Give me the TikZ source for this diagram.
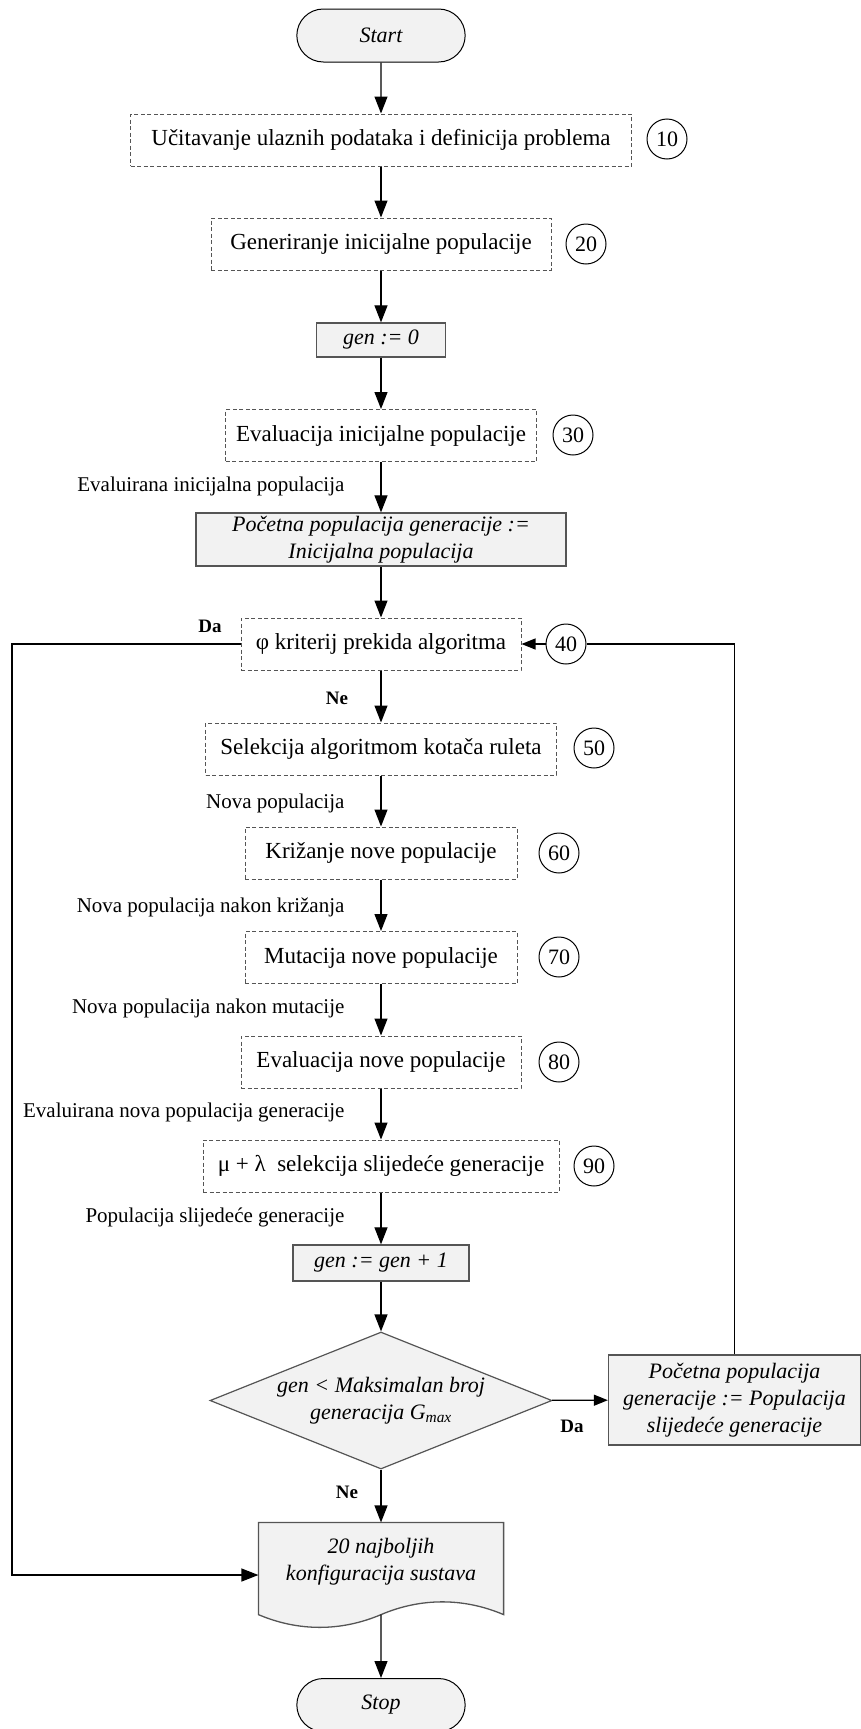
\documentclass[tikz,border=0pt]{standalone}
\usepackage{fontspec}
\setmainfont{Liberation Serif}
\usetikzlibrary{arrows.meta,shapes.geometric,shapes.misc,positioning,calc,backgrounds}

\definecolor{boxgray}{HTML}{F2F2F2}
\definecolor{edgegray}{HTML}{555555}

\begin{document}
\begin{tikzpicture}[x=1pt,y=-1pt,
  >={Triangle[length=17pt,width=13pt]},
  line width=1.2pt,
  txt/.style={font=\fontsize{23}{27}\selectfont},
  itx/.style={font=\fontsize{22}{27}\selectfont\itshape},
  proc/.style={txt,draw=edgegray,line width=1pt,dash pattern=on 4pt off 2.5pt,minimum height=52pt,inner sep=0pt},
  setbox/.style={itx,draw=edgegray,fill=boxgray,line width=1.3pt,inner sep=0pt,align=center},
  term/.style={itx,rounded rectangle,draw=black,fill=boxgray,line width=1pt,minimum width=175pt,minimum height=53pt},
  dia/.style={diamond,draw=edgegray,fill=boxgray,line width=1.2pt,minimum width=342pt,minimum height=137pt,inner sep=0pt},
  num/.style={font=\fontsize{22}{26}\selectfont,circle,draw=black,line width=1pt,minimum size=40pt,inner sep=0pt},
  lbl/.style={font=\fontsize{21}{25}\selectfont,anchor=east,inner sep=0pt},
  yesno/.style={font=\fontsize{19}{22}\selectfont\bfseries,inner sep=0pt},
  short/.style={-{Triangle[length=14pt,width=11pt]}}
]
\useasboundingbox (0,0) rectangle (861,1729);

% Start and stop
\node[term] (start) at (381,35.5) {Start};
\node[term] (stop) at (381,1705) {Stop};

% Main steps
\node[proc,minimum width=501pt] (b10) at (381,140) {Učitavanje ulaznih podataka i definicija problema};
\node[proc,minimum width=340pt] (b20) at (381,244) {Generiranje inicijalne populacije};
\node[setbox,minimum width=129pt,minimum height=34pt] (gen0) at (381,340) {gen := 0};
\node[proc,minimum width=311pt] (b30) at (381,435.5) {Evaluacija inicijalne populacije};
\node[setbox,minimum width=370pt,minimum height=53pt] (init) at (381,539.5) {Početna populacija generacije :=\\Inicijalna populacija};
\node[proc,minimum width=280pt] (b40) at (381,644) {φ kriterij prekida algoritma};
\node[proc,minimum width=351pt] (b50) at (381,749) {Selekcija algoritmom kotača ruleta};
\node[proc,minimum width=272pt] (b60) at (381,853) {Križanje nove populacije};
\node[proc,minimum width=272pt] (b70) at (381,957.5) {Mutacija nove populacije};
\node[proc,minimum width=280pt] (b80) at (381,1062) {Evaluacija nove populacije};
\node[proc,minimum width=356pt] (b90) at (381,1166) {μ + λ\enspace selekcija slijedeće generacije};
\node[setbox,minimum width=176pt,minimum height=36pt] (gen1) at (381,1263) {gen := gen + 1};

% Decision
\node[dia] (chk) at (381,1400.5) {};
\node[itx,align=center] (chkt) at (chk) {gen < Maksimalan broj\\generacija G\textsubscript{max}};
\node[setbox,minimum width=252pt,minimum height=90pt] (next) at (734.5,1400) {Početna populacija\\generacije := Populacija\\slijedeće generacije};

% Result document
\node[itx,align=center,minimum width=244pt,minimum height=78pt,inner sep=0pt] (best) at (381,1562) {20 najboljih\\konfiguracija sustava};
\begin{scope}[on background layer]
\draw[draw=edgegray,fill=boxgray,line width=1.3pt] (best.north west) -- (best.north east) -- ($(best.south east)+(0,13)$)
  .. controls ($(best.south east)+(-40,-4)$) and ($(best.south)+(40,-4)$) .. ($(best.south)+(0,13)$)
  .. controls ($(best.south)+(-40,30)$) and ($(best.south west)+(40,30)$) .. ($(best.south west)+(0,13)$) -- cycle;
\end{scope}

% Step numbers
\foreach \n/\x/\y in {10/667/139,20/586/244,30/573/435,40/566/644,50/594/748,60/559/853,70/559/957,80/559/1062,90/594/1166}
  \node[num] (c\n) at (\x,\y) {\n};

% Flow labels
\node[lbl] (l30) at (345,486) {Evaluirana inicijalna populacija};
\node[lbl] (l50) at (345,803) {Nova populacija};
\node[lbl] (l60) at (345,907) {Nova populacija nakon križanja};
\node[lbl] (l70) at (345,1008) {Nova populacija nakon mutacije};
\node[lbl] (l80) at (345,1112) {Evaluirana nova populacija generacije};
\node[lbl] (l90) at (345,1217) {Populacija slijedeće generacije};

\node[yesno] (da1) at (210,626) {Da};
\node[yesno] (ne1) at (337,698) {Ne};
\node[yesno] (da2) at (572,1426) {Da};
\node[yesno] (ne2) at (347,1492) {Ne};

% Arrows down the middle
\foreach \a/\b in {start/b10,b10/b20,b20/gen0,gen0/b30,b30/init,init/b40,b40/b50,b50/b60,b60/b70,b70/b80,b80/b90,b90/gen1,gen1/chk,chk/best}
  \draw[->] (\a) -- (\b);
\draw[->] ($(best.south)+(0,13)$) -- (stop);

% Loops
\draw[short] (chk) -- (next);
\draw (next.north) |- (c40.east);
\draw[short] (c40) -- (b40);
\coordinate (lft) at (12,1575);
\draw[->] (b40.west) -| (lft) -- (lft -| best.west);
\end{tikzpicture}
\end{document}
